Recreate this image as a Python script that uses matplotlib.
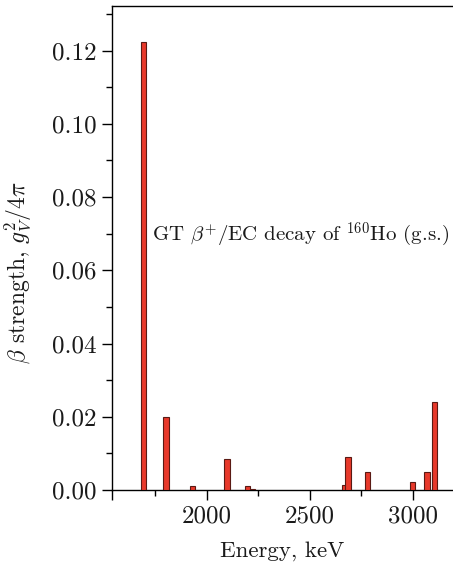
import numpy as np
import matplotlib
matplotlib.use("Agg")
from matplotlib import pyplot as plt

# level energies (keV) and GT strengths
energies = [1693, 1801, 1929, 2097, 2198, 2222, 2667, 2685, 2780, 2999, 3068, 3104]
strengths = [0.1225, 0.0200, 0.0011, 0.0084, 0.0011, 0.0003,
             0.0014, 0.0091, 0.0050, 0.0021, 0.0050, 0.0241]
xticks = [2000, 2500, 3000]
yticks = [0.00, 0.02, 0.04, 0.06, 0.08, 0.10, 0.12]

plt.rcParams['font.family'] = 'serif'
plt.rcParams['font.serif'] = ['cmr10']
plt.rcParams['mathtext.fontset'] = 'cm'
plt.rcParams['axes.formatter.use_mathtext'] = True

W, H = 453, 571
fig = plt.figure(figsize=(W / 100, H / 100), dpi=100)
ax = fig.add_axes([112 / W, (H - 490) / H, (W - 112) / W, (490 - 6) / H])

ax.bar(energies, strengths, width=26, color='#e8392b', edgecolor='#5a1a14',
       linewidth=0.8, zorder=3)

ax.set_xlim(1539, 3195)
ax.set_ylim(0, 0.1322)

ax.set_xticks([1539] + xticks)
ax.set_xticklabels([''] + [str(t) for t in xticks])
ax.set_xticks([1750, 2250, 2750], minor=True)
ax.set_yticks(yticks)
ax.set_yticklabels(['%.2f' % t for t in yticks])
ax.set_yticks(np.arange(0.01, 0.135, 0.02), minor=True)

ax.spines['right'].set_visible(False)
for s in ['left', 'top', 'bottom']:
    ax.spines[s].set_linewidth(1.0)
ax.tick_params(which='major', length=7, width=1.0, labelsize=18, direction='out',
               pad=4, labelcolor='#1a1a1a')
ax.tick_params(which='minor', length=4, width=1.0, direction='out')
ax.tick_params(top=False, right=False)

ax.set_xlabel('Energy, keV', fontsize=16.5, labelpad=10, color='#1a1a1a')
ax.set_ylabel(r'$\beta$ strength, $g_V^2/4\pi$', fontsize=17, color='#1a1a1a')
ax.yaxis.set_label_coords(-0.232, 0.45)

ax.text(1735, 0.0697, r'GT $\beta^{+}$/EC decay of $^{160}$Ho (g.s.)',
        fontsize=15, va='center', ha='left', color='#1a1a1a')

fig.savefig('out.png', dpi=100)
